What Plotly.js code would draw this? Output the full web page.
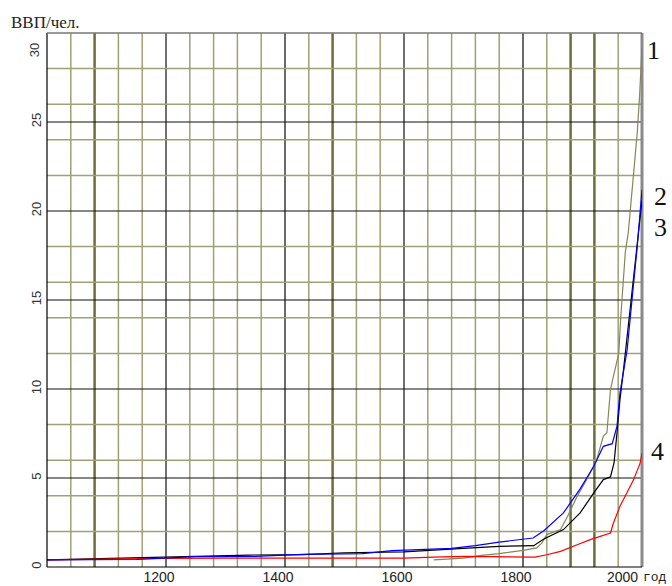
<!DOCTYPE html>
<html>
<head>
<meta charset="utf-8">
<script src="https://cdn.plot.ly/plotly-3.0.1.min.js"></script>
<style>html,body{margin:0;padding:0;background:#fff;}#chart{width:672px;height:586px;}</style>
</head>
<body>
<div id="chart"></div>
<script>
// ---- data ----
const years1 = [1650,1700,1730,1760,1800,1823,1832,1840,1863,1875,1891,1907,1924,1935,1941,1947,1952,1961,1964,1969,1972,1977,1983,1986,1992,1996,1999,2000];
const gdp1   = [0.4,0.5,0.65,0.75,0.93,1.07,1.35,1.82,2.1,2.85,3.97,4.91,6.03,7.35,7.54,9.97,10.72,12.0,13.9,16.2,17.7,18.8,21.0,22.5,24.4,26.5,28.2,29.2];

const years2 = [1000,1050,1150,1250,1350,1430,1530,1580,1630,1680,1720,1760,1817,1835,1868,1896,1919,1935,1950,1958,1963,1975,1986,1992,2000];
const gdp2   = [0.4,0.4,0.42,0.58,0.6,0.71,0.75,0.92,0.97,1.05,1.2,1.4,1.63,2.04,3.04,4.39,5.66,6.78,6.93,7.91,9.79,12.2,15.97,18.0,21.2];

const years3 = [1000,1150,1250,1340,1430,1500,1600,1700,1760,1818,1835,1868,1896,1919,1935,1947,1953,1958,1963,1969,1980,1986,1993,2000];
const gdp3   = [0.4,0.5,0.6,0.67,0.7,0.8,0.85,1.05,1.16,1.2,1.57,2.1,3.04,4.16,4.91,5.06,5.85,7.54,9.4,11.1,14.5,16.0,18.5,20.6];

const years4 = [1000,1100,1200,1300,1400,1500,1600,1650,1700,1750,1800,1820,1840,1863,1891,1913,1947,1952,1963,1975,1986,1997,2000];
const gdp4   = [0.4,0.45,0.48,0.5,0.5,0.5,0.5,0.55,0.6,0.58,0.56,0.56,0.69,0.88,1.25,1.54,1.91,2.47,3.41,4.16,4.91,5.85,6.4];

const seriesLabels = ['1','2','3','4'];
const xTickVals = [1200,1400,1600,1800];
const yTickVals = [0,5,10,15,20,25];

// grid values
const gridX = [1040,1080,1120,1160,1200,1240,1280,1320,1360,1400,1440,1480,1520,1560,1600,1640,1680,1720,1760,1800,1840,1880,1920,1960];
const darkOliveX = [1080,1480,1880,1920];
const blackX = [1200,1600];
const grayX = [1400,1800];
const gridYMinor = [2,4,6,8,12,14,16,18,22,24,26,28];
const gridYMajor = [5,10,15,20,25];

// ---- styles ----
const OLIVE = '#a0a076', DARKOLIVE = '#6e6e3a', GRAY = '#6a6a6a';
const shapes = [];
gridX.forEach(v => {
  let color = OLIVE, width = 1.5;
  if (darkOliveX.includes(v)) { color = DARKOLIVE; width = 2.5; }
  else if (blackX.includes(v)) { color = '#111'; width = 1.2; }
  else if (grayX.includes(v)) { color = GRAY; width = 2; }
  shapes.push({type:'line', layer:'below', xref:'x', yref:'paper', x0:v, x1:v, y0:0, y1:1, line:{color, width}});
});
gridYMinor.forEach(v => shapes.push({type:'line', layer:'below', xref:'paper', yref:'y', x0:0, x1:1, y0:v, y1:v, line:{color:OLIVE, width:1.5}}));
gridYMajor.forEach(v => shapes.push({type:'line', layer:'below', xref:'paper', yref:'y', x0:0, x1:1, y0:v, y1:v, line:{color:'#111', width:1.2}}));
// frame
shapes.push({type:'line', xref:'paper', yref:'paper', x0:0, x1:0, y0:0, y1:1, line:{color:'#000', width:1.2}});
shapes.push({type:'line', xref:'paper', yref:'paper', x0:0, x1:1, y0:0, y1:0, line:{color:'#000', width:1.2}});
shapes.push({type:'line', xref:'paper', yref:'paper', x0:0, x1:1, y0:1, y1:1, line:{color:'#777', width:1.5}});
shapes.push({type:'line', layer:'below', xref:'paper', yref:'paper', x0:1, x1:1, y0:0, y1:1, line:{color:'#8a8a8a', width:3}});

const lw = 1.2;
const traces = [
  {x: years1, y: gdp1, mode:'lines', line:{color:'#86865a', width:lw}, name:'1'},
  {x: years3, y: gdp3, mode:'lines', line:{color:'#000000', width:lw}, name:'3'},
  {x: years4, y: gdp4, mode:'lines', line:{color:'#ff0000', width:lw}, name:'4'},
  {x: years2, y: gdp2, mode:'lines', line:{color:'#0000ff', width:lw}, name:'2'}
];

const serif = 'Liberation Serif, Times New Roman, serif';
const sans = 'Liberation Sans, Arial, sans-serif';
const endVals = [gdp1[gdp1.length-1]-0.2, gdp2[gdp2.length-1]-0.4, gdp2[gdp2.length-1]-2.1, gdp4[gdp4.length-1]+0.1];
const labelShift = [3, 10, 10, 7];
const annotations = seriesLabels.map((t,i) => ({
  text:t, xref:'x', yref:'y', x:2000, y:endVals[i], xanchor:'left', yanchor:'middle',
  xshift:labelShift[i], showarrow:false, font:{family:serif, size:26, color:'#111'}
}));
annotations.push({text:'ВВП/чел.', xref:'paper', yref:'paper', x:0, y:1, xanchor:'left', yanchor:'middle',
  xshift:-38, yshift:11, showarrow:false, font:{family:serif, size:17, color:'#222'}});
annotations.push({text:'30', xref:'paper', yref:'y', x:0, y:29.0, xanchor:'right', yanchor:'middle', textangle:-90,
  xshift:-3, showarrow:false, font:{family:sans, size:13, color:'#333'}});
annotations.push({text:'2000', xref:'x', yref:'paper', x:2000, y:0, xanchor:'center', yanchor:'middle',
  xshift:-20, yshift:-10, borderpad:0, showarrow:false, font:{family:sans, size:14, color:'#222'}});
annotations.push({text:'год', xref:'paper', yref:'paper', x:1, y:0, xanchor:'left', yanchor:'middle',
  xshift:0, yshift:-10, borderpad:0, showarrow:false, font:{family:'Liberation Mono, Courier New, monospace', size:13, color:'#222'}});

const layout = {
  width:672, height:586,
  margin:{l:47, r:30, t:33, b:19, pad:0},
  paper_bgcolor:'#ffffff', plot_bgcolor:'#ffffff',
  showlegend:false,
  xaxis:{range:[1000,2000], tickvals:xTickVals, ticks:'', showgrid:false, zeroline:false, showline:false,
    ticklabelshift:-7, ticklabelstandoff:0, tickfont:{family:sans, size:14, color:'#222'}},
  yaxis:{range:[0,30], tickvals:yTickVals, ticks:'', showgrid:false, zeroline:false, showline:false,
    tickangle:-90, ticklabelstandoff:2, tickfont:{family:sans, size:13, color:'#333'}},
  shapes, annotations
};
Plotly.newPlot('chart', traces, layout, {displayModeBar:false, staticPlot:true});
</script>
</body>
</html>
